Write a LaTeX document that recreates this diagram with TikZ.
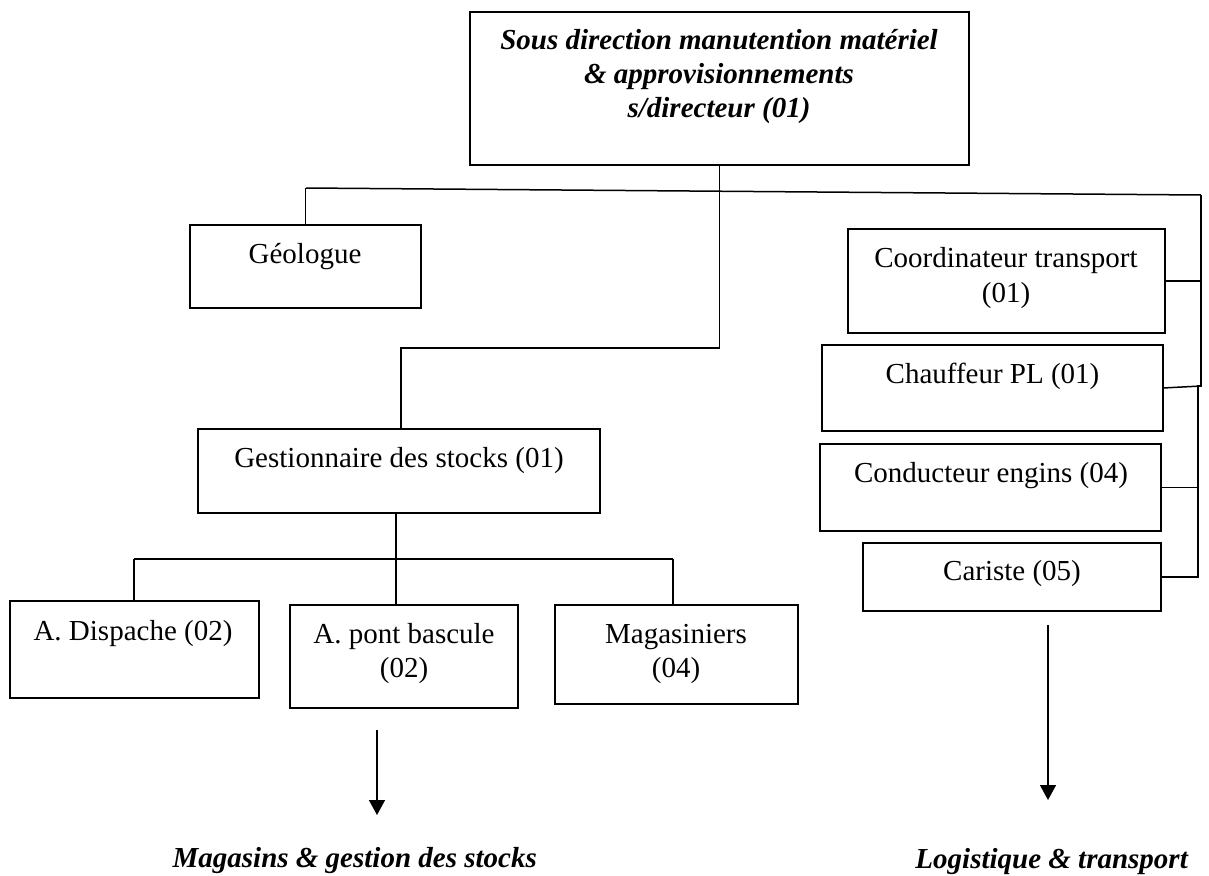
\documentclass[tikz,border=0pt]{standalone}
\usepackage{fontspec}
\setmainfont{Liberation Serif}
\usetikzlibrary{arrows.meta,calc}
\begin{document}
\begin{tikzpicture}[x=1pt,y=-1pt,
  box/.style={draw,line width=1.5pt,inner sep=0pt,outer sep=0pt},
  link/.style={line width=1.5pt},
  txt/.style={anchor=base,inner sep=0pt,font=\fontsize{29}{35}\selectfont},
  hd/.style={txt,font=\fontsize{29}{35}\selectfont\bfseries\itshape},
  flow/.style={line width=1.5pt,-{Triangle[width=16pt,length=15pt]}}]
\useasboundingbox (0,0) rectangle (1209,875);

% boxes
\node[box,minimum width=499pt,minimum height=153pt] (top)   at (719.5,88.5) {};
\node[box,minimum width=231pt,minimum height=83pt]  (geo)   at (305.5,266.5) {};
\node[box,minimum width=402pt,minimum height=84pt]  (gest)  at (399,471) {};
\node[box,minimum width=249pt,minimum height=97pt]  (disp)  at (134.5,649.5) {};
\node[box,minimum width=228pt,minimum height=103pt] (pont)  at (404,656.5) {};
\node[box,minimum width=243pt,minimum height=99pt]  (mag)   at (676.5,654.5) {};
\node[box,minimum width=317pt,minimum height=104pt] (coord) at (1006.5,281) {};
\node[box,minimum width=341pt,minimum height=86pt]  (chauf) at (992.5,388) {};
\node[box,minimum width=341pt,minimum height=87pt]  (cond)  at (990.5,487.5) {};
\node[box,minimum width=298pt,minimum height=68pt]  (car)   at (1012,577) {};

% box texts
\node[hd]  (top1) at (719,50)    {Sous direction manutention matériel};
\node[hd]  (top2) at (719,83.5)  {\& approvisionnements};
\node[hd]  (top3) at (719,117)   {s/directeur (01)};
\node[txt] (geot) at (305,263)   {Géologue};
\node[txt] (gestt) at (399,467)  {Gestionnaire des stocks (01)};
\node[txt] (dispt) at (133,640)  {A. Dispache (02)};
\node[txt] (pont1) at (404,643)  {A. pont bascule};
\node[txt] (pont2) at (404,677)  {(02)};
\node[txt] (mag1) at (676,643)   {Magasiniers};
\node[txt] (mag2) at (676,677)   {(04)};
\node[txt] (coord1) at (1006,267) {Coordinateur transport};
\node[txt] (coord2) at (1006,302) {(01)};
\node[txt] (chaueft) at (992.5,383) {Chauffeur PL (01)};
\node[txt] (condt) at (991,482)  {Conducteur engins (04)};
\node[txt] (cart) at (1012,580)  {Cariste (05)};

% junction points
\coordinate (hL) at (306,188);
\coordinate (hR) at (1201,195);
\coordinate (jG) at (401,348);
\coordinate (rM) at (1201,386);
\coordinate (rB) at (1198,577);
\coordinate (bL) at (134,559);
\coordinate (bR) at (673,559);
\coordinate (bM) at (396,559);

% upper level
\draw[link] (hL) -- (hR);
\draw[link] (geo.north) -- (geo.north |- hL);
\draw[link] (top.south) |- (jG) -- (jG |- gest.north);

% transport column
\draw[link] (hR) -- (rM) -| (rB) -- (car.east);
\draw[link] (coord.east) -- (coord.east -| hR);
\draw[link] (chauf.east) -- (rM);
\draw[link] (cond.east) -- (cond.east -| rB);

% stock branch
\draw[link] (bM |- gest.south) -- (bM |- pont.north);
\draw[link] (bL) -- (bR);
\draw[link] (bL) -- (bL |- disp.north);
\draw[link] (bR) -- (bR |- mag.north);

% outcome arrows
\coordinate (aL1) at (377,730);
\coordinate (aL2) at (377,815);
\coordinate (aR1) at (1048,625);
\coordinate (aR2) at (1048,800);
\draw[flow] (aL1) -- (aL2);
\draw[flow] (aR1) -- (aR2);

\node[hd,anchor=base east] (labL) at (537,867) {Magasins \& gestion des stocks};
\node[hd,anchor=base east] (labR) at (1188,868) {Logistique \& transport};
\end{tikzpicture}
\end{document}
